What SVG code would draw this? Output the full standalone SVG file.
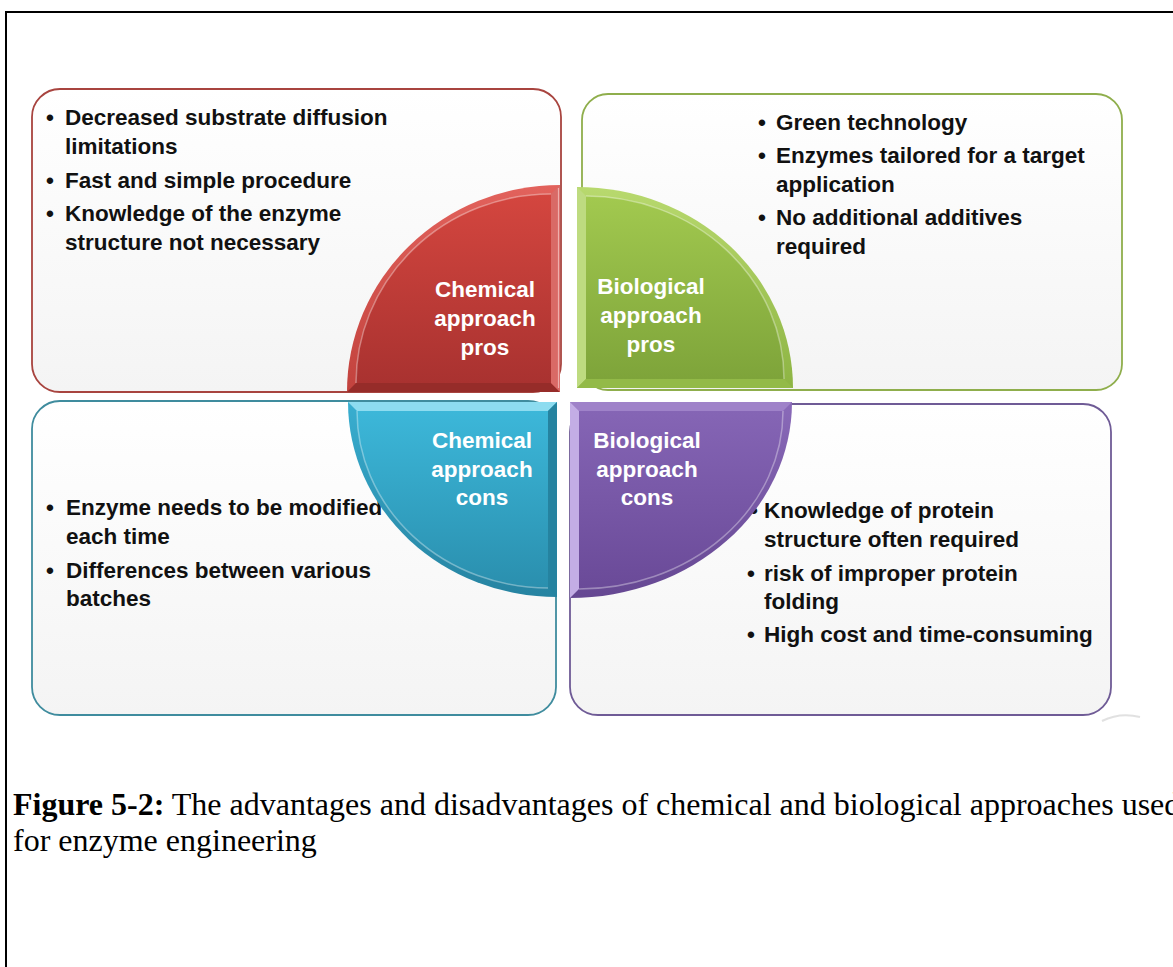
<svg xmlns="http://www.w3.org/2000/svg" width="1173" height="967" viewBox="0 0 1173 967">
  <style>
    .body { font-family: "Liberation Sans", Arial, sans-serif; font-weight: bold; font-size: 22.5px; fill: #111111; }
    .label { font-family: "Liberation Sans", Arial, sans-serif; font-weight: bold; font-size: 22.5px; fill: #ffffff; text-anchor: middle; }
    .caption { font-family: "Liberation Serif", "Times New Roman", serif; font-size: 32px; fill: #000000; }
    .box { fill: url(#boxFill); stroke-width: 1.8; }
    .shine { fill: none; stroke: #ffffff; stroke-opacity: 0.35; stroke-width: 1.5; }
  </style>
  <defs>
    <linearGradient id="boxFill" x1="0" y1="0" x2="0" y2="1">
      <stop offset="0" stop-color="#ffffff"/>
      <stop offset="1" stop-color="#f4f4f4"/>
    </linearGradient>
    <linearGradient id="redFace" x1="0" y1="0" x2="0" y2="1">
      <stop offset="0" stop-color="#d4463f"/>
      <stop offset="1" stop-color="#a93230"/>
    </linearGradient>
    <linearGradient id="redRim" x1="0" y1="0" x2="0" y2="1">
      <stop offset="0" stop-color="#e2625c"/>
      <stop offset="1" stop-color="#c2423d"/>
    </linearGradient>
    <linearGradient id="greenFace" x1="0" y1="0" x2="0" y2="1">
      <stop offset="0" stop-color="#a2c94f"/>
      <stop offset="1" stop-color="#7ea43a"/>
    </linearGradient>
    <linearGradient id="greenRim" x1="0" y1="0" x2="0" y2="1">
      <stop offset="0" stop-color="#b8d96e"/>
      <stop offset="1" stop-color="#8db443"/>
    </linearGradient>
    <linearGradient id="tealFace" x1="0" y1="0" x2="0" y2="1">
      <stop offset="0" stop-color="#3cb7d9"/>
      <stop offset="1" stop-color="#2a8fae"/>
    </linearGradient>
    <linearGradient id="tealRim" x1="0" y1="0" x2="0" y2="1">
      <stop offset="0" stop-color="#39aed0"/>
      <stop offset="1" stop-color="#2683a1"/>
    </linearGradient>
    <linearGradient id="purpleFace" x1="0" y1="0" x2="0" y2="1">
      <stop offset="0" stop-color="#8565b5"/>
      <stop offset="1" stop-color="#6a4a98"/>
    </linearGradient>
    <linearGradient id="purpleRim" x1="0" y1="0" x2="0" y2="1">
      <stop offset="0" stop-color="#8a6ab9"/>
      <stop offset="1" stop-color="#654792"/>
    </linearGradient>
  </defs>

  <rect x="0" y="0" width="1173" height="967" fill="#ffffff"/>

  <!-- page frame -->
  <path d="M6,967 V12 H1173" fill="none" stroke="#000000" stroke-width="2"/>

  <!-- text boxes -->
  <g id="chem-pros-box">
    <rect class="box" x="32" y="89" width="529" height="303" rx="28" stroke="#a8443f"/>
    <text class="body" x="46" y="125">•</text>
    <text class="body" x="65" y="125">Decreased substrate diffusion</text>
    <text class="body" x="65" y="154">limitations</text>
    <text class="body" x="46" y="188">•</text>
    <text class="body" x="65" y="188">Fast and simple procedure</text>
    <text class="body" x="46" y="221">•</text>
    <text class="body" x="65" y="221">Knowledge of the enzyme</text>
    <text class="body" x="65" y="250">structure not necessary</text>
  </g>

  <g id="bio-pros-box">
    <rect class="box" x="582" y="94" width="540" height="296" rx="26" stroke="#8fae4c"/>
    <text class="body" x="758" y="130">•</text>
    <text class="body" x="776" y="130">Green technology</text>
    <text class="body" x="758" y="163">•</text>
    <text class="body" x="776" y="163">Enzymes tailored for a target</text>
    <text class="body" x="776" y="192">application</text>
    <text class="body" x="758" y="225">•</text>
    <text class="body" x="776" y="225">No additional additives</text>
    <text class="body" x="776" y="254">required</text>
  </g>

  <g id="chem-cons-box">
    <rect class="box" x="32" y="401" width="524" height="314" rx="28" stroke="#3f8c9e"/>
    <text class="body" x="46" y="515">•</text>
    <text class="body" x="66" y="515">Enzyme needs to be modified</text>
    <text class="body" x="66" y="544">each time</text>
    <text class="body" x="46" y="578">•</text>
    <text class="body" x="66" y="578">Differences between various</text>
    <text class="body" x="66" y="606">batches</text>
  </g>

  <g id="bio-cons-box">
    <rect class="box" x="570" y="404" width="541" height="311" rx="28" stroke="#6f5b96"/>
    <text class="body" x="750" y="518">•</text>
    <text class="body" x="764" y="518">Knowledge of protein</text>
    <text class="body" x="764" y="547">structure often required</text>
    <text class="body" x="747" y="581">•</text>
    <text class="body" x="764" y="581">risk of improper protein</text>
    <text class="body" x="764" y="609">folding</text>
    <text class="body" x="747" y="642">•</text>
    <text class="body" x="764" y="642">High cost and time-consuming</text>
  </g>

  <!-- bevelled quarter discs -->
  <g id="chem-pros">
    <path d="M560,392 H347 A213,207 0 0 1 560,185 Z" fill="url(#redRim)"/>
    <path d="M347,392 H560 L551,383 H356 Z" fill="#962c29"/>
    <path d="M560,392 V185 L551,194 V383 Z" fill="#d96a66"/>
    <path d="M551,383 H356 A195,189 0 0 1 551,194 Z" fill="url(#redFace)"/>
    <path class="shine" d="M356,383 A195,189 0 0 1 551,194"/>
    <path d="M558.5,388 V188" stroke="#f4c0be" stroke-width="1.2" stroke-opacity="0.8"/>
    <text class="label" x="485" y="297">Chemical</text>
    <text class="label" x="485" y="326">approach</text>
    <text class="label" x="485" y="355">pros</text>
  </g>

  <g id="bio-pros">
    <path d="M577,388 V187 A216,201 0 0 1 793,388 Z" fill="url(#greenRim)"/>
    <path d="M577,388 V187 L586,196 V379 Z" fill="#bedb80"/>
    <path d="M577,388 H793 L784,379 H586 Z" fill="#93ba48"/>
    <path d="M586,379 V196 A198,183 0 0 1 784,379 Z" fill="url(#greenFace)"/>
    <path class="shine" d="M586,196 A198,183 0 0 1 784,379"/>
    <text class="label" x="651" y="294">Biological</text>
    <text class="label" x="651" y="323">approach</text>
    <text class="label" x="651" y="352">pros</text>
  </g>

  <g id="chem-cons">
    <path d="M557,402 H348 A209,195 0 0 0 557,597 Z" fill="url(#tealRim)"/>
    <path d="M348,402 H557 L548,411 H357 Z" fill="#8ddcf0"/>
    <path d="M557,402 V597 L548,588 V411 Z" fill="#2583a0"/>
    <path d="M548,411 H357 A191,177 0 0 0 548,588 Z" fill="url(#tealFace)"/>
    <path class="shine" d="M357,411 A191,177 0 0 0 548,588"/>
    <text class="label" x="482" y="448">Chemical</text>
    <text class="label" x="482" y="477">approach</text>
    <text class="label" x="482" y="505">cons</text>
  </g>

  <g id="bio-cons">
    <path d="M570,402 H792 A222,196 0 0 1 570,598 Z" fill="url(#purpleRim)"/>
    <path d="M570,402 H792 L783,411 H579 Z" fill="#9f82c9"/>
    <path d="M570,402 V598 L579,589 V411 Z" fill="#c3ade5"/>
    <path d="M579,411 H783 A204,178 0 0 1 579,589 Z" fill="url(#purpleFace)"/>
    <path class="shine" d="M783,411 A204,178 0 0 1 579,589"/>
    <text class="label" x="647" y="448">Biological</text>
    <text class="label" x="647" y="477">approach</text>
    <text class="label" x="647" y="505">cons</text>
  </g>

  <g id="connectors"/>

  <!-- faint mark at the lower right corner of the figure -->
  <path d="M1102,721 Q1120,712 1140,717" fill="none" stroke="#d4d4d4" stroke-width="2" stroke-opacity="0.7"/>

  <!-- caption -->
  <text class="caption" x="13" y="815"><tspan font-weight="bold">Figure 5-2:</tspan> The advantages and disadvantages of chemical and biological approaches used</text>
  <text class="caption" x="13" y="851">for enzyme engineering</text>
</svg>
